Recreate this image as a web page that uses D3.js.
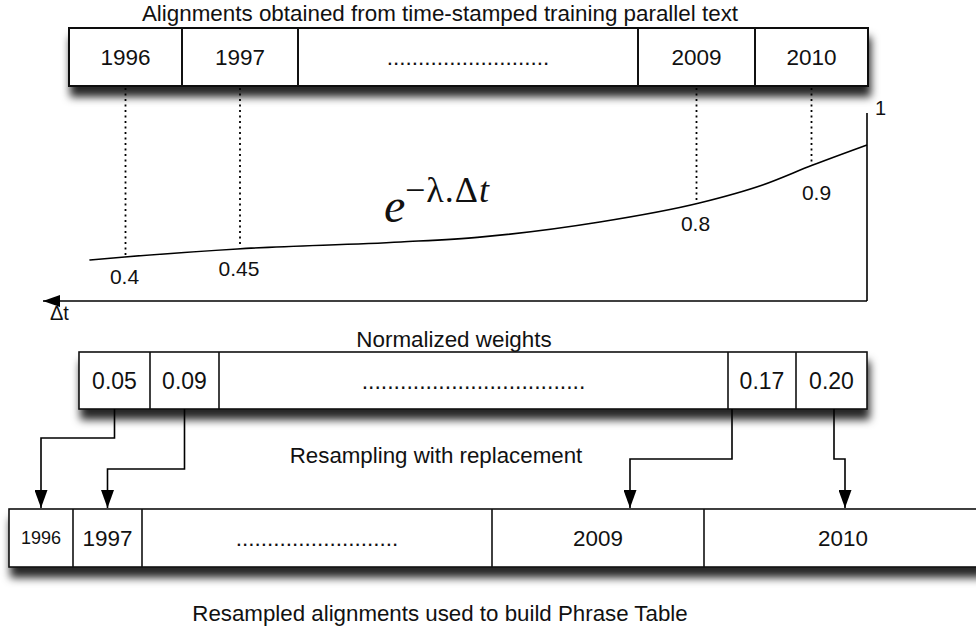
<!DOCTYPE html>
<html>
<head>
<meta charset="utf-8">
<script src="https://cdn.jsdelivr.net/npm/d3@7.8.5/dist/d3.min.js"></script>
<style>
  body { margin: 0; background: #fff; }
  svg { display: block; }
  text { font-family: "Liberation Sans", Arial, Helvetica, sans-serif; fill: #111; }
</style>
</head>
<body>
<div id="chart"></div>
<script>
// ---- data ----
const years = ['1996', '1997', '..........................', '2009', '2010'];
const decayLabels = ['0.4', '0.45', '0.8', '0.9'];
const normWeights = ['0.05', '0.09', '...................................', '0.17', '0.20'];
const resampled = ['1996', '1997', '..........................', '2009', '2010'];

// decay curve e^(-λ.Δt) (position along axis, height 0..1)
const curveT = [0.054, 0.097, 0.234, 0.433, 0.529, 0.675, 0.796, 0.873, 0.934, 1.0];
const curveW = [0.218, 0.234, 0.277, 0.314, 0.340, 0.420, 0.521, 0.617, 0.723, 0.830];

const W = 976, H = 629;

const svg = d3.select('#chart').append('svg')
    .attr('width', W)
    .attr('height', H);

const defs = svg.append('defs');

const shadow = defs.append('filter')
    .attr('id', 'shadow')
    .attr('x', '-10%').attr('y', '-40%')
    .attr('width', '125%').attr('height', '200%');
shadow.append('feDropShadow')
    .attr('dx', 2).attr('dy', 10)
    .attr('stdDeviation', 4.5)
    .attr('flood-color', '#000')
    .attr('flood-opacity', 0.85);

defs.append('marker')
    .attr('id', 'head')
    .attr('viewBox', '0 -6.5 18 13')
    .attr('refX', 18).attr('refY', 0)
    .attr('markerWidth', 18).attr('markerHeight', 13)
    .attr('markerUnits', 'userSpaceOnUse')
    .attr('orient', 'auto')
    .append('path')
    .attr('d', 'M0,-6.5L18,0L0,6.5Z')
    .attr('fill', '#000');

defs.append('marker')
    .attr('id', 'axishead')
    .attr('viewBox', '0 -6 17 12')
    .attr('refX', 17).attr('refY', 0)
    .attr('markerWidth', 17).attr('markerHeight', 12)
    .attr('markerUnits', 'userSpaceOnUse')
    .attr('orient', 'auto')
    .append('path')
    .attr('d', 'M0,-6L17,0L0,6Z')
    .attr('fill', '#000');

// draw a row of cells; edges are the cell boundaries in px
function drawRow(labels, edges, y0, h, sizes, stroke) {
    const g = svg.append('g');
    g.append('rect')
        .attr('x', edges[0]).attr('y', y0)
        .attr('width', edges[edges.length - 1] - edges[0])
        .attr('height', h)
        .attr('fill', '#fff')
        .attr('stroke', '#111')
        .attr('stroke-width', stroke)
        .attr('filter', 'url(#shadow)');
    g.selectAll('line.div')
        .data(edges.slice(1, -1))
        .enter().append('line')
        .attr('x1', d => d).attr('x2', d => d)
        .attr('y1', y0).attr('y2', y0 + h)
        .attr('stroke', '#111')
        .attr('stroke-width', stroke);
    g.selectAll('text')
        .data(labels)
        .enter().append('text')
        .attr('x', (d, i) => (edges[i] + edges[i + 1]) / 2)
        .attr('y', y0 + h / 2)
        .attr('dy', '0.36em')
        .attr('text-anchor', 'middle')
        .style('font-size', (d, i) => sizes[i] + 'px')
        .text(d => d);
    return edges.slice(0, -1).map((e, i) => (e + edges[i + 1]) / 2);
}

// ---- top row ----
svg.append('text')
    .attr('x', 440).attr('y', 21)
    .attr('text-anchor', 'middle')
    .style('font-size', '22.4px')
    .text('Alignments obtained from time-stamped training parallel text');

const topCenters = drawRow(years, [69, 182, 298, 638, 755, 868], 28, 58,
    [22.5, 22.5, 22.5, 22.5, 22.5], 2);

// ---- decay plot ----
const x = d3.scaleLinear().domain([0, 1]).range([45, 867]);
const y = d3.scaleLinear().domain([0, 1]).range([301, 113]);
const weightAt = d3.scaleLinear().domain(curveT).range(curveW);

const line = d3.line()
    .x((d, i) => x(curveT[i]))
    .y(d => y(d))
    .curve(d3.curveMonotoneX);

svg.append('path')
    .datum(curveW)
    .attr('d', line)
    .attr('fill', 'none')
    .attr('stroke', '#000')
    .attr('stroke-width', 1.6);

// axes: vertical at Δt=0, horizontal arrow pointing towards older data
svg.append('line')
    .attr('x1', x(1)).attr('x2', x(1))
    .attr('y1', y(1)).attr('y2', y(0))
    .attr('stroke', '#000').attr('stroke-width', 1.6);
svg.append('line')
    .attr('x1', x(1)).attr('x2', x(0) - 2)
    .attr('y1', y(0)).attr('y2', y(0))
    .attr('stroke', '#000').attr('stroke-width', 1.6)
    .attr('marker-end', 'url(#axishead)');

svg.append('text')
    .attr('x', x(1) + 8).attr('y', y(1) + 2)
    .style('font-size', '20px')
    .text('1');
svg.append('text')
    .attr('x', 50).attr('y', 320)
    .style('font-size', '20px')
    .text('Δt');

// dotted drops from each year down to the curve
const picked = [0, 1, 3, 4];
picked.forEach((ci, k) => {
    const px = topCenters[ci];
    const w = weightAt(x.invert(px));
    svg.append('line')
        .attr('x1', px).attr('x2', px)
        .attr('y1', 88).attr('y2', y(w) - 2)
        .attr('stroke', '#000')
        .attr('stroke-width', 1.8)
        .attr('stroke-dasharray', '2,3.5');
    svg.append('text')
        .attr('x', px + (k === 3 ? 5 : -1))
        .attr('y', y(w) + (k === 3 ? 34 : 27))
        .attr('text-anchor', 'middle')
        .style('font-size', '21px')
        .text(decayLabels[k]);
});

// formula
const serif = '"Liberation Serif", "DejaVu Serif", serif';
svg.append('text').attr('x', 384).attr('y', 222)
    .style('font-family', serif)
    .style('font-style', 'italic')
    .style('font-size', '48px')
    .text('e');
const sup = svg.append('text').attr('x', 405).attr('y', 202)
    .style('font-family', serif)
    .style('font-size', '36px')
    .style('letter-spacing', '1px');
sup.append('tspan').text('−λ.Δ');
sup.append('tspan').style('font-style', 'italic').text('t');

// ---- normalized weights ----
svg.append('text')
    .attr('x', 454).attr('y', 347)
    .attr('text-anchor', 'middle')
    .style('font-size', '22.4px')
    .text('Normalized weights');

const normCenters = drawRow(normWeights, [79, 150, 219, 728, 796, 867], 352, 57,
    [23, 23, 23, 23, 23], 1.6);

svg.append('text')
    .attr('x', 436).attr('y', 463)
    .attr('text-anchor', 'middle')
    .style('font-size', '22.3px')
    .text('Resampling with replacement');

// ---- resampled row ----
const botCenters = drawRow(resampled, [9, 73, 142, 492, 704, 982], 509, 58,
    [18, 22.5, 22.5, 22.4, 22.4], 1.6);

svg.append('text')
    .attr('x', 440).attr('y', 621)
    .attr('text-anchor', 'middle')
    .style('font-size', '22.3px')
    .text('Resampled alignments used to build Phrase Table');

// elbow connectors: [from x, elbow y, to x]
const links = [
    [normCenters[0], 438, botCenters[0]],
    [normCenters[1], 469, botCenters[1]],
    [732, 459, 630],
    [834, 459, 845]
];
svg.selectAll('path.link')
    .data(links)
    .enter().append('path')
    .attr('class', 'link')
    .attr('d', d => `M${d[0]},409V${d[1]}H${d[2]}V508`)
    .attr('fill', 'none')
    .attr('stroke', '#000')
    .attr('stroke-width', 1.6)
    .attr('marker-end', 'url(#head)');
</script>
</body>
</html>
